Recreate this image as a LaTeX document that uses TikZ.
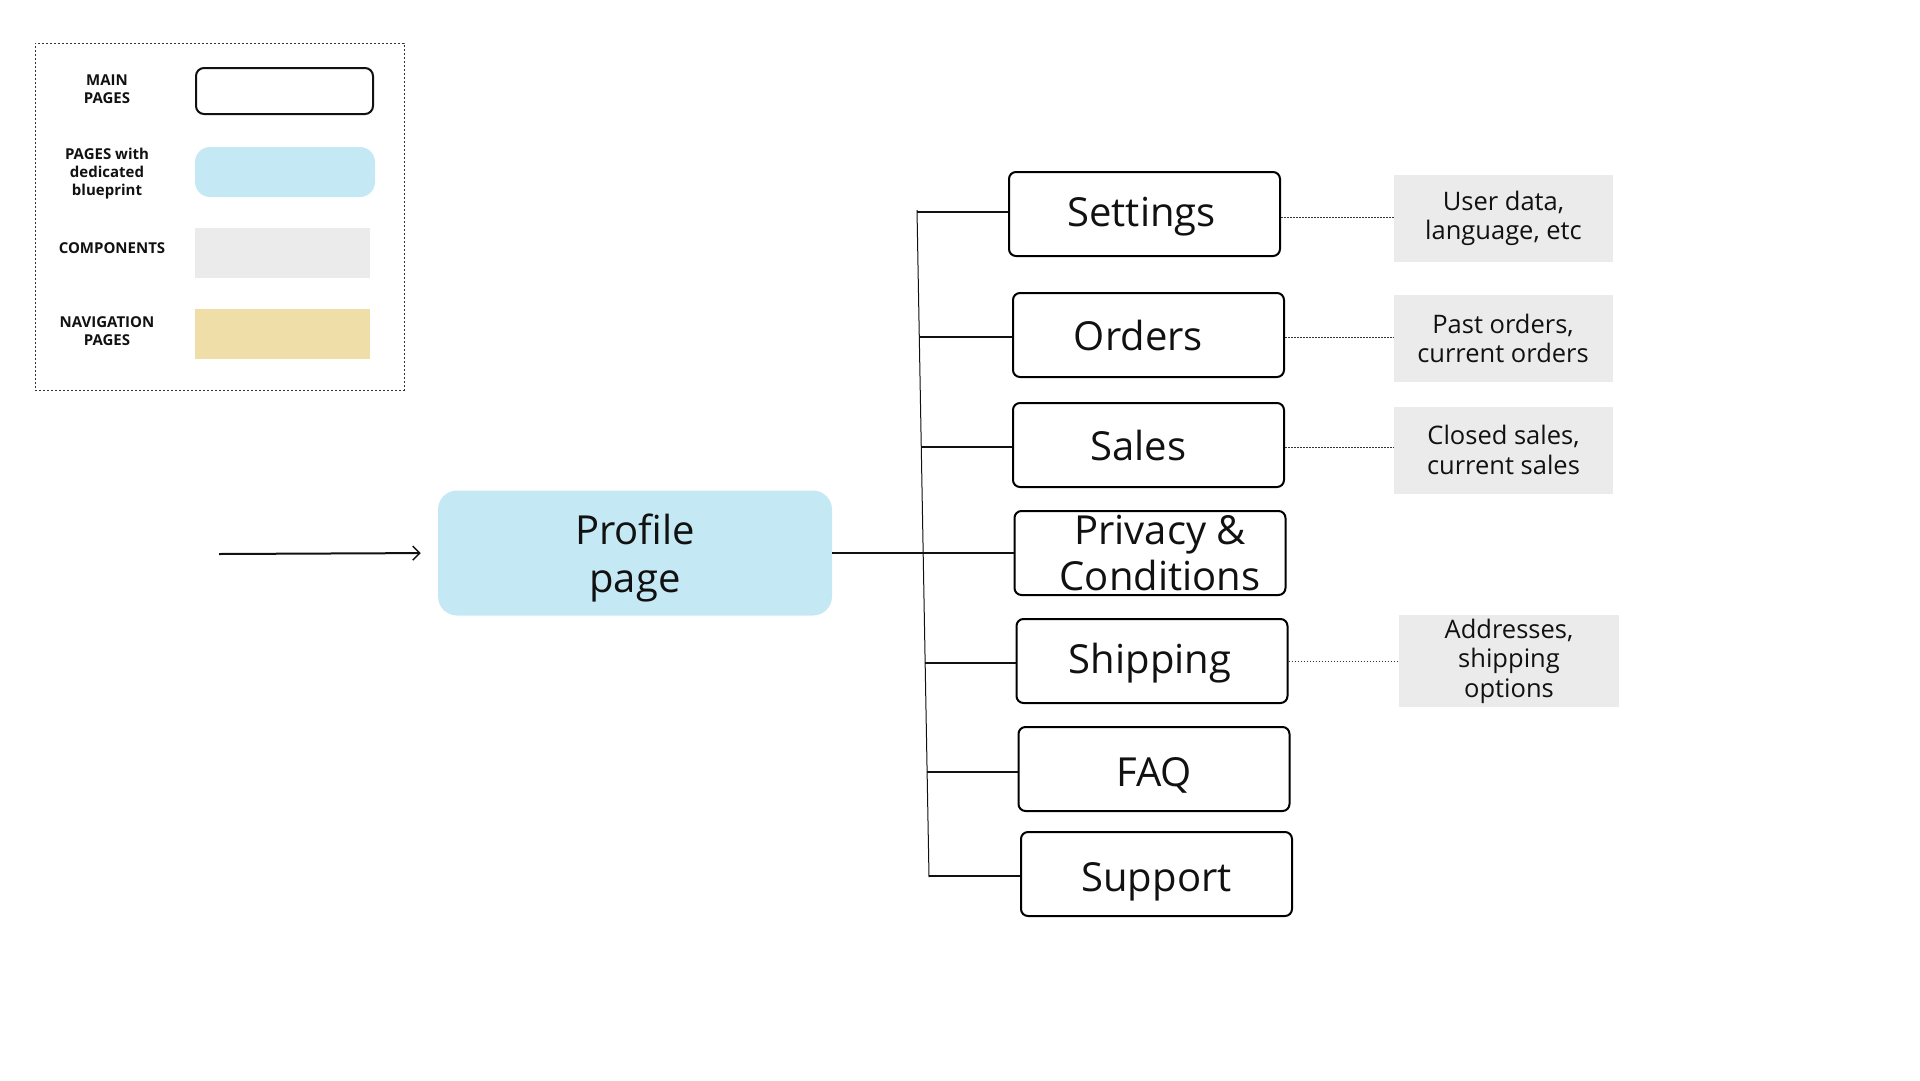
\documentclass[tikz,border=0pt]{standalone}
\usepackage{fontspec}
\setmainfont{Open Sans}
\usetikzlibrary{arrows.meta,calc}
\definecolor{bluefill}{HTML}{C5E9F4}
\definecolor{compgray}{HTML}{EBEBEB}
\definecolor{navyellow}{HTML}{EFDEA7}
\definecolor{ink}{HTML}{111111}
\tikzset{
  pagebox/.style={draw=black, line width=2pt, rounded corners=7pt, minimum width=271pt, minimum height=84pt, inner sep=0pt, font=\fontsize{40}{46}\selectfont, align=center, text=ink},
  oneline/.style={text height=#1, text depth=6pt},
  note/.style={fill=compgray, minimum width=219pt, minimum height=87pt, inner sep=0pt, font=\fontsize{25.5}{29.5}\selectfont, align=center, text=ink},
  branch/.style={line width=2pt, draw=ink},
  dots/.style={line width=1pt, dash pattern=on 1.5pt off 1.5pt, draw=black!80},
  legendlabel/.style={font=\bfseries\fontsize{15}{18}\selectfont, align=center, text=ink},
  swatch/.style={minimum width=175pt, minimum height=50pt, inner sep=0pt},
}
\begin{document}
\begin{tikzpicture}[x=1pt,y=-1pt]
\useasboundingbox (0,0) rectangle (1920,1080);

% ---------- legend ----------
\node[draw=black!80, line width=1pt, dash pattern=on 2pt off 2pt, minimum width=369pt, minimum height=347pt, inner sep=0pt] (legend) at (219.5,216.5) {};
\node[legendlabel] (l1) at (107,89) {MAIN\\PAGES};
\node[legendlabel] (l2) at (107,173.5) {PAGES with\\dedicated\\blueprint};
\node[legendlabel] (l3) at (112,248.5) {COMPONENTS};
\node[legendlabel] (l4) at (107,331.5) {NAVIGATION\\PAGES};
\node[swatch, draw=ink, line width=2pt, rounded corners=8pt, minimum width=177pt, minimum height=46pt] (s1) at (284.5,91) {};
\node[swatch, fill=bluefill, rounded corners=15pt, minimum width=180pt] (s2) at (285,172) {};
\node[swatch, fill=compgray] (s3) at (282.5,253) {};
\node[swatch, fill=navyellow] (s4) at (282.5,334) {};

% ---------- profile ----------
\coordinate (start) at (219,554);
\node[fill=bluefill, rounded corners=19pt, minimum width=394pt, minimum height=125pt, inner sep=0pt, font=\fontsize{40}{48}\selectfont, align=center, text=ink] (profile) at (635,553) {\rule{0pt}{40pt}Profile\\page};
\draw[line width=2pt, draw=ink, shorten >=17pt, -{Straight Barb[length=7pt,width=14pt,line width=1.5pt]}] (start) -- (profile.west);

% ---------- pages ----------
\node[pagebox, oneline=30pt] (settings) at (1144.5,214) {Settings\hspace*{6pt}};
\node[pagebox, oneline=37pt] (orders)   at (1148.5,335) {Orders\hspace*{20pt}};
\node[pagebox, oneline=36pt] (sales)    at (1148.5,445) {Sales\hspace*{20pt}};
\node[pagebox] (privacy)  at (1150,553) {\hspace*{20pt}Privacy \&\\\hspace*{20pt}Conditions};
\node[pagebox, oneline=31pt] (shipping) at (1152,661) {Shipping\hspace*{4pt}};
\node[pagebox, oneline=40pt] (faq)      at (1154,769) {FAQ};
\node[pagebox, oneline=40pt] (support)  at (1156.5,874) {Support};

% trunk
\coordinate (ttop) at (917,210);
\coordinate (tbot) at (929,877);
\draw[line width=1pt, draw=ink] (ttop) -- (tbot);

\coordinate (j1) at (917,212);
\coordinate (j2) at (919.3,337);
\coordinate (j3) at (921.3,447);
\coordinate (j5) at (925.1,663);
\coordinate (j6) at (927.1,772);
\coordinate (j7) at (929,876);

\draw[branch] (j1) -- (j1 -| settings.west);
\draw[branch] (j2) -- (j2 -| orders.west);
\draw[branch] (j3) -- (j3 -| sales.west);
\draw[branch] (profile.east) -- (privacy.west);
\draw[branch] (j5) -- (j5 -| shipping.west);
\draw[branch] (j6) -- (j6 -| faq.west);
\draw[branch] (j7) -- (j7 -| support.west);

% ---------- notes ----------
\node[note] (n1) at (1503.5,218.5) {User data,\\language, etc};
\node[note] (n2) at (1503,338.5) {Past orders,\\current orders};
\node[note] (n3) at (1503.5,450) {Closed sales,\\current sales};
\node[note, minimum width=220pt, minimum height=92pt] (n5) at (1509,661) {Addresses,\\shipping\\options};

\draw[dots] (settings.east |- 0,217) -- (n1.west |- 0,217);
\draw[dots] (orders.east |- 0,337) -- (n2.west |- 0,337);
\draw[dots] (sales.east |- 0,447) -- (n3.west |- 0,447);
\draw[dots] (shipping.east |- 0,661) -- (n5.west |- 0,661);
\end{tikzpicture}
\end{document}
